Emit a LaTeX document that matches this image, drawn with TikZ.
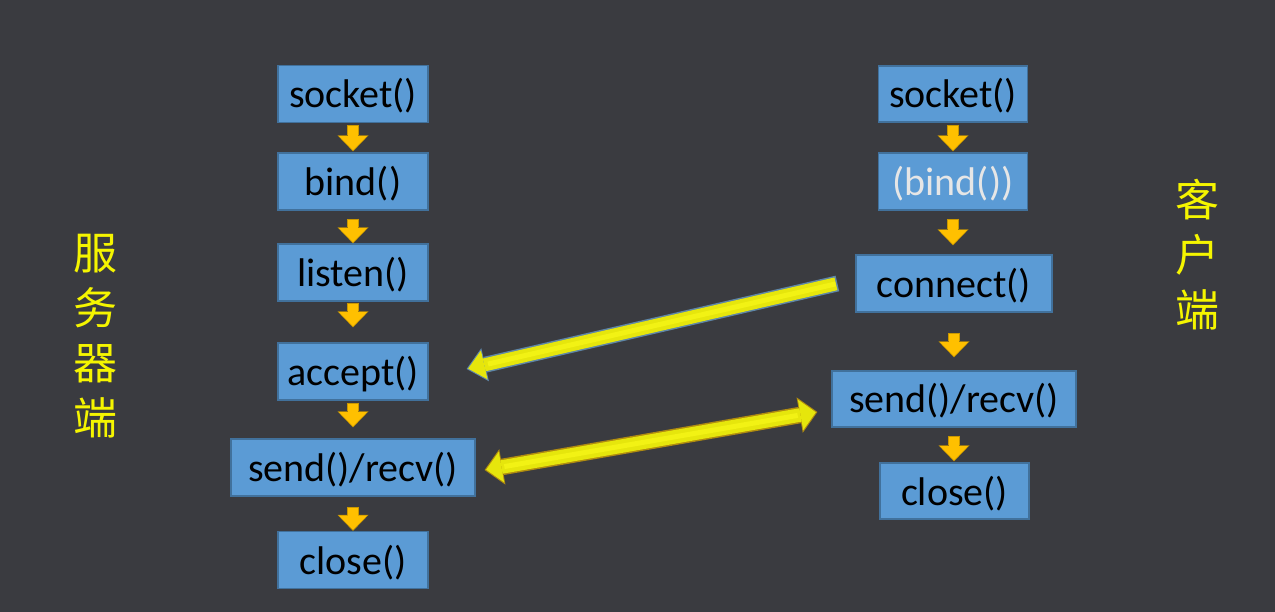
\documentclass[tikz,border=0pt]{standalone}
\usepackage{fontspec}
\setmainfont{Carlito}
\newfontfamily\cjk{Noto Sans CJK SC}
\usetikzlibrary{arrows.meta}
\definecolor{bg}{HTML}{3A3B40}
\definecolor{boxfill}{HTML}{5B9BD5}
\definecolor{boxline}{HTML}{41719C}
\definecolor{orng}{HTML}{FFC000}
\definecolor{orngdark}{HTML}{C99700}
\definecolor{ylw}{HTML}{E6E60C}
\definecolor{ylwlight}{HTML}{F2F214}
\definecolor{bluebord}{HTML}{5E86A8}
\definecolor{goldbord}{HTML}{B08C10}
\definecolor{cjkyellow}{HTML}{F5F500}
\definecolor{lighttext}{HTML}{E6E6E6}
\newcommand\smallarr[4]{%
  \draw[arrout,shorten <=#3pt,shorten >=#4pt] (#1.south) -- (#1.south |- #2.north);
  \draw[arrin,shorten <=#3pt+1pt,shorten >=#4pt+1.2pt] (#1.south) -- (#1.south |- #2.north);
}
\begin{document}
\begin{tikzpicture}[x=1pt,y=-1pt,
  box/.style={draw=boxline,line width=1.2pt,fill=boxfill,inner sep=0pt,
    minimum height=57pt,font=\fontsize{40}{48}\selectfont,text=black,
    text height=34pt,text depth=6pt},
  arrout/.style={draw=orngdark,line width=12.5pt,
    -{Triangle[width=31pt,length=16pt,line width=0pt]}},
  arrin/.style={draw=orng,line width=10pt,
    -{Triangle[width=28pt,length=14pt,line width=0pt]}},
  cjklabel/.style={text=cjkyellow,font=\cjk\fontsize{44}{55}\selectfont,align=center,inner sep=0pt}
]
\fill[bg] (0,0) rectangle (1275,612);
\useasboundingbox (0,0) rectangle (1275,612);

% server column
\node[box,minimum width=150pt] (ls) at (353,94) {socket()};
\node[box,minimum width=150pt] (lb) at (353,181.5) {bind()};
\node[box,minimum width=150pt] (ll) at (353,272.5) {listen()};
\node[box,minimum width=150pt] (la) at (353,371.5) {accept()};
\node[box,minimum width=244pt] (lsr) at (353,467.5) {send()/recv()};
\node[box,minimum width=150pt] (lc) at (353,560) {close()};

% client column
\node[box,minimum width=149pt,minimum height=56pt] (rs) at (953,94) {socket()};
\node[box,minimum width=149pt,text=lighttext] (rb) at (953,181.5) {(bind())};
\node[box,minimum width=196pt] (rc) at (954,283.5) {connect()};
\node[box,minimum width=244pt,minimum height=56pt] (rsr) at (954,399) {send()/recv()};
\node[box,minimum width=149pt,minimum height=56pt] (rcl) at (954.5,491) {close()};

% small down arrows
\smallarr{ls}{lb}{2}{1}
\smallarr{lb}{ll}{8}{0}
\smallarr{ll}{la}{1}{15}
\smallarr{la}{lsr}{2}{11}
\smallarr{lsr}{lc}{10}{0}
\smallarr{rs}{rb}{2}{1}
\smallarr{rb}{rc}{8}{9}
\smallarr{rc}{rsr}{20}{13}
\smallarr{rsr}{rcl}{8}{1}

% connect -> accept
\coordinate (c1) at ([xshift=-18pt]rc.west);
\coordinate (c2) at ([xshift=38pt,yshift=2.5pt]la.east);
\draw[line width=16pt,bluebord,-{Triangle[width=34pt,length=19pt,line width=0pt]}] (c1) -- (c2);
\draw[line width=13pt,ylw,-{Triangle[width=29.5pt,length=16.5pt,line width=0pt]},
  shorten <=1.5pt,shorten >=1.6pt] (c1) -- (c2);
\draw[line width=5pt,ylwlight,shorten <=2pt,shorten >=22pt] (c1) -- (c2);

% send/recv <-> send/recv
\coordinate (d1) at ([xshift=9pt,yshift=-2.5pt]lsr.east);
\coordinate (d2) at ([xshift=-14pt,yshift=-13pt]rsr.west);
\draw[line width=16.5pt,goldbord,{Triangle[width=36pt,length=18pt,line width=0pt]}-{Triangle[width=36pt,length=18pt,line width=0pt]}] (d1) -- (d2);
\draw[line width=13.5pt,ylw,{Triangle[width=31pt,length=15.5pt,line width=0pt]}-{Triangle[width=31pt,length=15.5pt,line width=0pt]},
  shorten <=1.6pt,shorten >=1.6pt] (d1) -- (d2);
\draw[line width=5pt,ylwlight,shorten <=20pt,shorten >=20pt] (d1) -- (d2);

% side labels
\node[cjklabel] (server) at (95,336) {服\\务\\器\\端};
\node[cjklabel] (client) at (1197,255) {客\\户\\端};
\end{tikzpicture}
\end{document}
